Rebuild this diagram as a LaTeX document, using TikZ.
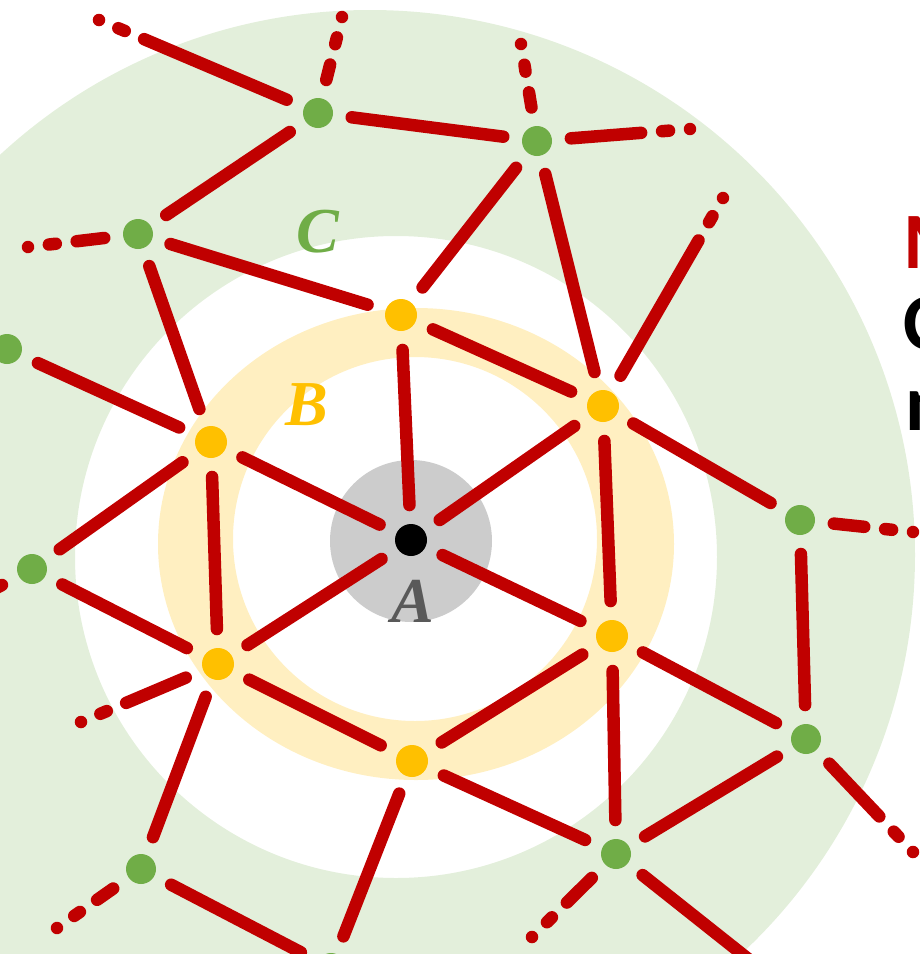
\documentclass[tikz,border=0pt]{standalone}
\usepackage{fontspec}
\newfontfamily\labfont{Liberation Serif}
\newfontfamily\sidefont{Carlito}
\definecolor{cred}{HTML}{C00000}
\definecolor{cgreen}{HTML}{70AD47}
\definecolor{cyellow}{HTML}{FFC000}
\definecolor{greenring}{HTML}{E3EFDB}
\definecolor{yellowring}{HTML}{FFEFC1}
\definecolor{grayc}{HTML}{CCCCCC}
\definecolor{agray}{HTML}{595959}
\tikzset{
 gnode/.style={circle, fill=cgreen, minimum size=30pt, inner sep=0pt, outer sep=0pt},
 ynode/.style={circle, fill=cyellow, minimum size=32pt, inner sep=0pt, outer sep=0pt},
 anode/.style={circle, fill=black, minimum size=32pt, inner sep=0pt, outer sep=0pt},
 link/.style={draw=cred, line width=12.5pt, line cap=round, shorten <=19pt, shorten >=19pt},
 stub/.style={draw=cred, line width=12.5pt, line cap=round, shorten >=19pt, dash pattern=on 0.01pt off 21pt on 7pt off 21pt on 3000pt},
 lab/.style={font=\labfont\bfseries\itshape\fontsize{64}{64}\selectfont, inner sep=0pt},
 side/.style={font=\sidefont\bfseries\fontsize{80}{80}\selectfont, anchor=base west, inner sep=0pt}
}
\begin{document}
\begin{tikzpicture}[x=1pt,y=-1pt]
\useasboundingbox (0,0) rectangle (920,954);
\clip (0,0) rectangle (920,954);
% background rings
\fill[greenring, even odd rule] (370,555) circle[radius=545pt] (396,557) circle[radius=321pt];
\fill[yellowring, even odd rule] (416,544) ellipse[x radius=258pt, y radius=236pt] (415,539) circle[radius=182pt];
\fill[grayc] (411,541) circle[radius=81pt];
% labels
\node[lab, text=cgreen] (labC) at (318,232) {C};
\node[lab, text=cyellow] (labB) at (307,405) {B};
\node[lab, text=agray] (labA) at (413,601) {A};
% side text (cut off at the right edge, as in the reference)
\node[side, text=cred] (t1) at (903,268) {M};
\node[side, text=black] (t2) at (903,349) {C};
\node[side, text=black] (t3) at (905,430) {n};
% nodes
\node[anode] (A) at (411,540) {};
\node[ynode] (Y1) at (401,315) {};
\node[ynode] (Y2) at (603,406) {};
\node[ynode] (Y3) at (612,636) {};
\node[ynode] (Y4) at (412,761) {};
\node[ynode] (Y5) at (218,664) {};
\node[ynode] (Y6) at (211,442) {};
\node[gnode] (G1) at (318,113) {};
\node[gnode] (G2) at (537,141) {};
\node[gnode] (G3) at (138,234) {};
\node[gnode] (G4) at (7,349) {};
\node[gnode] (G5) at (32,569) {};
\node[gnode] (G6) at (800,520) {};
\node[gnode] (G7) at (806,739) {};
\node[gnode] (G8) at (616,854) {};
\node[gnode] (G9) at (141,869) {};
\node[gnode] (G10) at (331,968) {};
% free ends
\coordinate (s1) at (99,20);
\coordinate (s2) at (342,17);
\coordinate (s3) at (521,44);
\coordinate (s4) at (690,129);
\coordinate (s5) at (28,247);
\coordinate (s6) at (723,198);
\coordinate (s7) at (913,532);
\coordinate (s8) at (913,852);
\coordinate (s9) at (532,937);
\coordinate (s10) at (57,928);
\coordinate (s11) at (81,722);
\coordinate (o1) at (-60,618);
\coordinate (o2) at (800,1000);
% spokes
\draw[link] (A) -- (Y1);
\draw[link] (A) -- (Y2);
\draw[link] (A) -- (Y3);
\draw[link] (A) -- (Y5);
\draw[link] (A) -- (Y6);
% ring B
\draw[link] (Y1) -- (Y2);
\draw[link] (Y2) -- (Y3);
\draw[link] (Y3) -- (Y4);
\draw[link] (Y4) -- (Y5);
\draw[link] (Y5) -- (Y6);
% outer links
\draw[link] (G1) -- (G2);
\draw[link] (G1) -- (G3);
\draw[link] (G2) -- (Y1);
\draw[link] (G2) -- (Y2);
\draw[link] (G3) -- (Y1);
\draw[link] (G3) -- (Y6);
\draw[link] (G4) -- (Y6);
\draw[link] (G5) -- (Y6);
\draw[link] (G5) -- (Y5);
\draw[link] (Y5) -- (G9);
\draw[link] (G9) -- (G10);
\draw[link] (G10) -- (Y4);
\draw[link] (Y4) -- (G8);
\draw[link] (Y3) -- (G8);
\draw[link] (G8) -- (G7);
\draw[link] (Y3) -- (G7);
\draw[link] (G6) -- (G7);
\draw[link] (Y2) -- (G6);
\draw[link, shorten >=0pt] (G5) -- (o1);
\draw[link, shorten >=0pt] (G8) -- (o2);
% dashed stubs
\draw[stub] (s1) -- (G1);
\draw[stub] (s2) -- (G1);
\draw[stub] (s3) -- (G2);
\draw[stub] (s4) -- (G2);
\draw[stub] (s5) -- (G3);
\draw[stub] (s6) -- (Y2);
\draw[stub] (s7) -- (G6);
\draw[stub] (s8) -- (G7);
\draw[stub] (s9) -- (G8);
\draw[stub] (s10) -- (G9);
\draw[stub] (s11) -- (Y5);
\end{tikzpicture}
\end{document}
